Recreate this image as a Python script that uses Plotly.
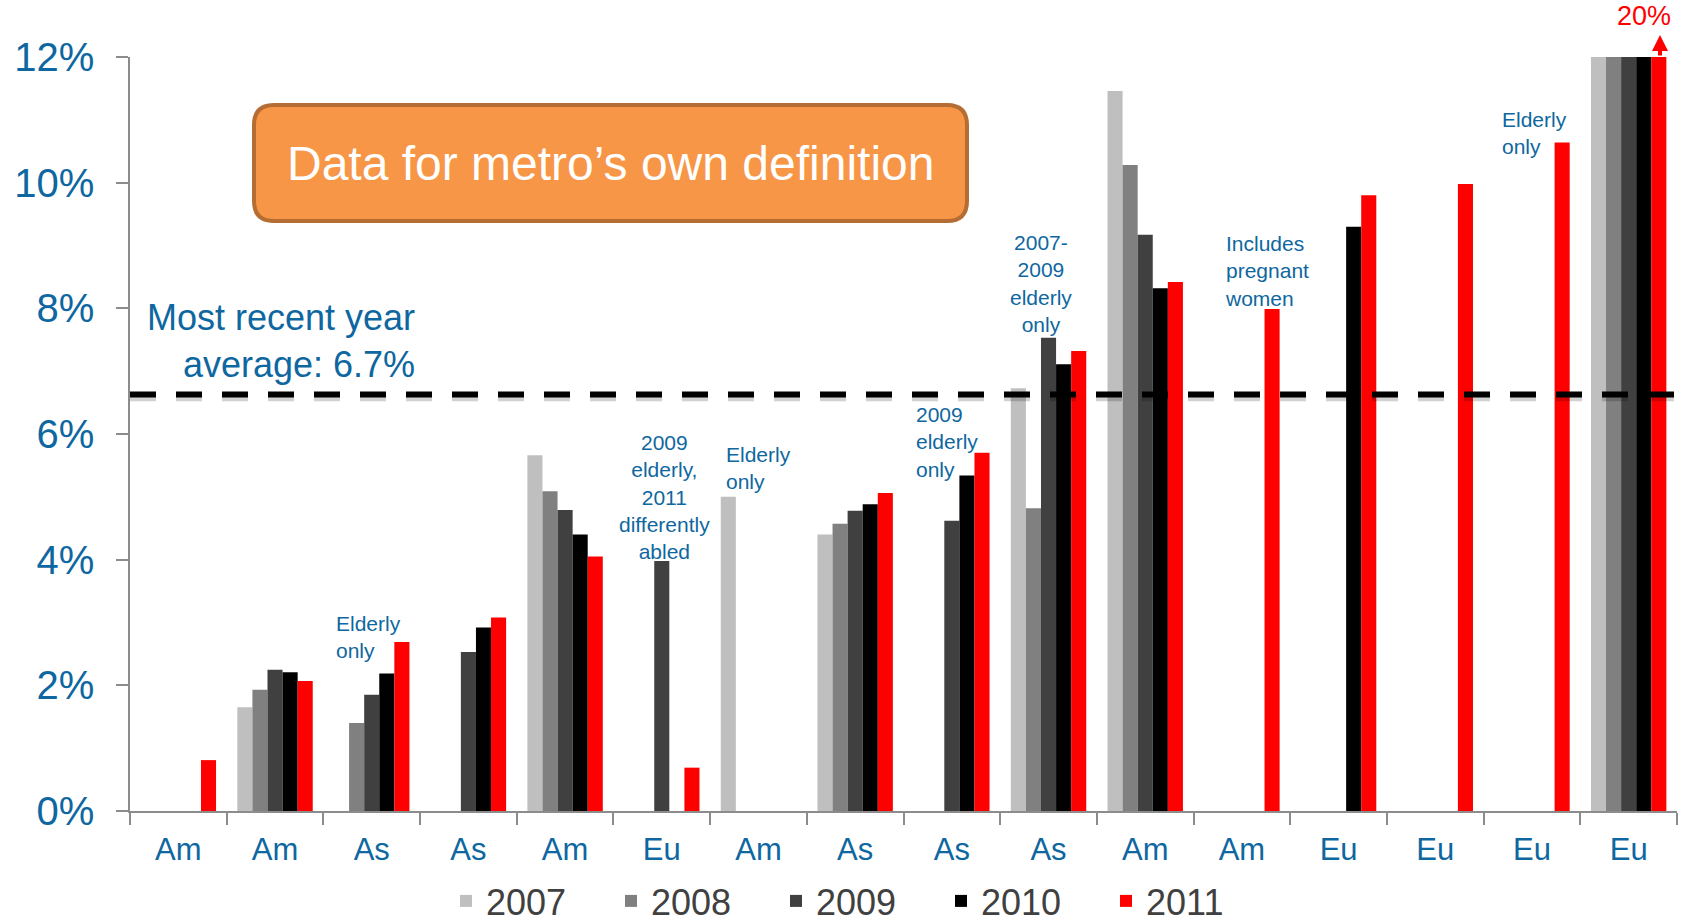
import plotly.graph_objects as go

# ---------------- data ----------------
categories = ["Am", "Am", "As", "As", "Am", "Eu", "Am", "As",
              "As", "As", "Am", "Am", "Eu", "Eu", "Eu", "Eu"]
years = ["2007", "2008", "2009", "2010", "2011"]
v2007 = [None, 1.65, None, None, 5.66, None, 5.00, 4.40, None, 6.73, 11.46, None, None, None, None, 12]
v2008 = [None, 1.93, 1.40, None, 5.09, None, None, 4.57, None, 4.82, 10.28, None, None, None, None, 12]
v2009 = [None, 2.25, 1.85, 2.53, 4.79, 3.98, None, 4.78, 4.62, 7.53, 9.17, None, None, None, None, 12]
v2010 = [None, 2.21, 2.19, 2.92, 4.40, None, None, 4.88, 5.34, 7.11, 8.32, None, 9.30, None, None, 12]
v2011 = [0.81, 2.07, 2.69, 3.08, 4.05, 0.69, None, 5.06, 5.70, 7.32, 8.42, 7.99, 9.80, 9.98, 10.64, 20]
series = [v2007, v2008, v2009, v2010, v2011]
colors = ["#BFBFBF", "#808080", "#404040", "#000000", "#FF0000"]

avg_label = 6.7
avg_line = 6.63
y_ticks = [0, 2, 4, 6, 8, 10, 12]
notes = [
    (1.61, 2.77, "Elderly<br>only", "left"),
    (5.03, 5.00, "2009<br>elderly,<br>2011<br>differently<br>abled", "center"),
    (5.64, 5.46, "Elderly<br>only", "left"),
    (7.61, 5.87, "2009<br>elderly<br>only", "left"),
    (8.92, 8.40, "2007-<br>2009<br>elderly<br>only", "center"),
    (10.80, 8.59, "Includes<br>pregnant<br>women", "left"),
    (13.67, 10.79, "Elderly<br>only", "left"),
]

# ---------------- layout geometry ----------------
W, H = 1685, 924
L, R, T, B = 130, 8, 57, 113
PW, PH = W - L - R, H - T - B
FONT = "Liberation Sans, Arial, sans-serif"
BLUE = "#0E67A0"


def px(xp):
    return (xp - L) / PW


def py(yp):
    return (H - B - yp) / PH


xs = list(range(len(categories)))
fig = go.Figure()
for name, vals, col in zip(years, series, colors):
    fig.add_trace(go.Bar(x=xs, y=vals, name=name, marker=dict(color=col, line=dict(width=0))))

# orange rounded box
x0, x1, y0, y1 = px(254), px(967), py(105), py(221)
rx, ry = 20 / PW, 20 / PH
path = (f"M {x0+rx},{y0} L {x1-rx},{y0} Q {x1},{y0} {x1},{y0-ry} "
        f"L {x1},{y1+ry} Q {x1},{y1} {x1-rx},{y1} L {x0+rx},{y1} "
        f"Q {x0},{y1} {x0},{y1+ry} L {x0},{y0-ry} Q {x0},{y0} {x0+rx},{y0} Z")
fig.add_shape(type="path", path=path, xref="paper", yref="paper",
              fillcolor="#F79646", line=dict(color="#B66D33", width=4), layer="above")

# dashed average line with a soft shadow
fig.add_shape(type="line", xref="paper", yref="y", x0=0, x1=1.01, y0=avg_line - 0.045, y1=avg_line - 0.045,
              line=dict(color="rgba(0,0,0,0.18)", width=8, dash="26px,20px"), layer="above")
fig.add_shape(type="line", xref="paper", yref="y", x0=0, x1=1.01, y0=avg_line, y1=avg_line,
              line=dict(color="black", width=6, dash="26px,20px"), layer="above")

ann = []
ann.append(dict(x=px(610), y=py(164), xref="paper", yref="paper", showarrow=False,
                xanchor="center", yanchor="middle",
                text="Data for metro’s own definition", font=dict(family=FONT, size=48, color="white")))
ann.append(dict(x=px(417), y=py(341), xref="paper", yref="paper", showarrow=False,
                xanchor="right", yanchor="middle", align="right",
                text=f"Most recent year<br>average: {avg_label}%", font=dict(family=FONT, size=36, color=BLUE)))
for xv, yv, txt, al in notes:
    ann.append(dict(x=xv, y=yv, xref="x", yref="y", showarrow=False, text=txt,
                    xanchor="left" if al == "left" else "center", align=al, yanchor="middle",
                    font=dict(family=FONT, size=21, color=BLUE)))
ann.append(dict(x=px(1644), y=py(16), xref="paper", yref="paper", showarrow=False,
                xanchor="center", yanchor="middle",
                text=f"{v2011[-1]}%", font=dict(family=FONT, size=27, color="#FF0000")))
ann.append(dict(x=px(1660), y=py(35), xref="paper", yref="paper", showarrow=True, text="",
                ax=0, ay=22, arrowhead=2, arrowsize=0.8, arrowwidth=4, arrowcolor="#FF0000"))

fig.update_layout(
    width=W, height=H, autosize=False,
    margin=dict(l=L, r=R, t=T, b=B, pad=0, autoexpand=False),
    barmode="group", bargap=0.22, bargroupgap=0,
    plot_bgcolor="white", paper_bgcolor="white",
    font=dict(family=FONT),
    annotations=ann,
    legend=dict(orientation="h", x=446 / W, xref="container", xanchor="left",
                y=(H - 901) / H, yref="container", yanchor="middle",
                font=dict(family=FONT, size=36, color="#404040"), entrywidth=120,
                bgcolor="rgba(0,0,0,0)"),
)
fig.update_yaxes(range=[0, 12], tickvals=y_ticks, ticktext=[f"{v}%" for v in y_ticks],
                 ticks="outside", ticklen=12, tickcolor="#8C8C8C", tickwidth=1.5,
                 showline=True, linecolor="#8C8C8C", linewidth=1.5, showgrid=False, zeroline=False,
                 automargin=False,
                 tickfont=dict(family=FONT, size=40, color=BLUE), ticklabelstandoff=14)
fig.update_xaxes(range=[-0.5, len(categories) - 0.5], tickmode="array", tickvals=xs, ticktext=categories,
                 ticks="", showline=True, linecolor="#8C8C8C", linewidth=1.5, showgrid=False, zeroline=False,
                 automargin=False,
                 tickfont=dict(family=FONT, size=31, color=BLUE), ticklabelstandoff=10,
                 minor=dict(tickmode="array", tickvals=[i - 0.5 for i in range(len(categories) + 1)],
                            ticks="outside", ticklen=12, tickcolor="#8C8C8C", tickwidth=1.5, showgrid=False))

fig.write_html("out.html", config={"displayModeBar": False},
               post_script="document.body.style.margin='0';")
